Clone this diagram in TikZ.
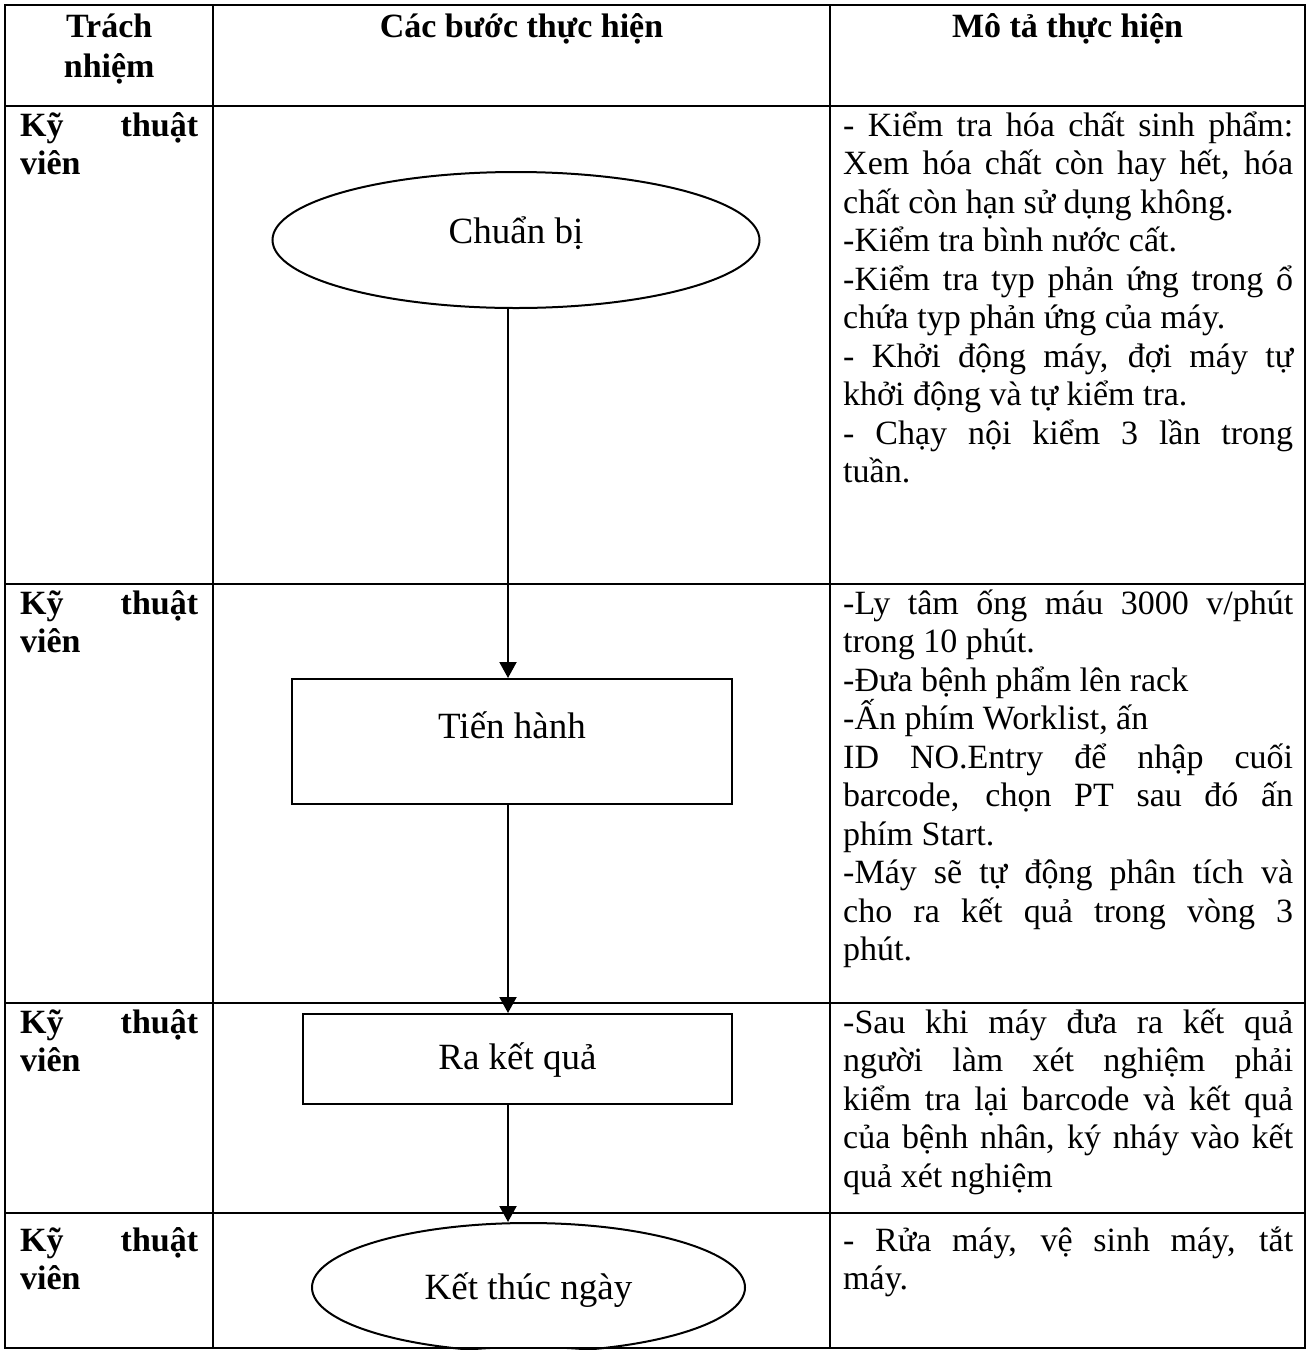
\documentclass[tikz,border=0pt]{standalone}
\usepackage{fontspec}
\setmainfont{Liberation Serif}
\usetikzlibrary{shapes.geometric,arrows.meta}
\newdimen\cw
\newcommand\jline[1]{\hbox to \cw{#1}}
\newcommand\pline[1]{\hbox{#1}}
\newcommand\centline[1]{\hbox to \cw{\hss #1\hss}}
\newcommand\cellbox[3][38.5pt]{\cw=#2\relax\vtop{\baselineskip=#1\lineskiplimit=-50pt\lineskip=0pt #3}}
\tikzset{
  tbl/.style={line width=2.5pt},
  celltext/.style={anchor=base west, inner sep=0pt, font=\fontsize{34}{38.5}\selectfont},
  boldcell/.style={celltext, font=\bfseries\fontsize{34}{38.5}\selectfont},
  hdr/.style={anchor=base, inner sep=0pt, font=\bfseries\fontsize{34}{38.5}\selectfont},
  flowtxt/.style={font=\fontsize{37}{42}\selectfont, inner sep=0pt},
  term/.style={ellipse, draw, line width=2pt, inner sep=0pt},
  proc/.style={rectangle, draw, line width=2pt, inner sep=0pt},
  arr/.style={line width=2pt, -{Triangle[width=17pt,length=16pt]}},
}
\begin{document}
\begin{tikzpicture}[x=1pt,y=-1pt]
\useasboundingbox (0,0) rectangle (1315,1350);
% table grid
\draw[tbl] (5,5) rectangle (1305,1348);
\draw[tbl] (213,5) -- (213,1348);
\draw[tbl] (830,5) -- (830,1348);
\draw[tbl] (5,106) -- (1305,106);
\draw[tbl] (5,584) -- (1305,584);
\draw[tbl] (5,1003) -- (1305,1003);
\draw[tbl] (5,1213) -- (1305,1213);
% header
\node[boldcell] (h1) at (20,37) {\cellbox[40pt]{178pt}{\centline{Trách}\centline{nhiệm}}};
\node[hdr] (h2) at (521.5,37) {Các bước thực hiện};
\node[hdr] (h3) at (1067.5,37) {Mô tả thực hiện};
% column 1
\node[boldcell] (r1) at (20,136) {\cellbox{178pt}{\jline{Kỹ thuật}\pline{viên}}};
\node[boldcell] (r2) at (20,614) {\cellbox{178pt}{\jline{Kỹ thuật}\pline{viên}}};
\node[boldcell] (r3) at (20,1033) {\cellbox{178pt}{\jline{Kỹ thuật}\pline{viên}}};
\node[boldcell] (r4) at (20,1251) {\cellbox{178pt}{\jline{Kỹ thuật}\pline{viên}}};
% column 3
\node[celltext] (d1) at (843,136) {\cellbox{450pt}{%
\jline{- Kiểm tra hóa chất sinh phẩm:}%
\jline{Xem hóa chất còn hay hết, hóa}%
\pline{chất còn hạn sử dụng không.}%
\pline{-Kiểm tra bình nước cất.}%
\jline{-Kiểm tra typ phản ứng trong ổ}%
\pline{chứa typ phản ứng của máy.}%
\jline{- Khởi động máy, đợi máy tự}%
\pline{khởi động và tự kiểm tra.}%
\jline{- Chạy nội kiểm 3 lần trong}%
\pline{tuần.}}};
\node[celltext] (d2) at (843,614) {\cellbox{450pt}{%
\jline{-Ly tâm ống máu 3000 v/phút}%
\pline{trong 10 phút.}%
\pline{-Đưa bệnh phẩm lên rack}%
\pline{-Ấn phím Worklist, ấn}%
\jline{ID NO.Entry để nhập cuối}%
\jline{barcode, chọn PT sau đó ấn}%
\pline{phím Start.}%
\jline{-Máy sẽ tự động phân tích và}%
\jline{cho ra kết quả trong vòng 3}%
\pline{phút.}}};
\node[celltext] (d3) at (843,1033) {\cellbox{450pt}{%
\jline{-Sau khi máy đưa ra kết quả}%
\jline{người làm xét nghiệm phải}%
\jline{kiểm tra lại barcode và kết quả}%
\jline{của bệnh nhân, ký nháy vào kết}%
\pline{quả xét nghiệm}}};
\node[celltext] (d4) at (843,1251) {\cellbox{450pt}{%
\jline{- Rửa máy, vệ sinh máy, tắt}%
\pline{máy.}}};
% flowchart
\coordinate (ax) at (508,0);
\node[term, minimum width=487pt, minimum height=136pt,
  label={[flowtxt,anchor=base,yshift=7pt]center:Chuẩn bị}] (prep) at (516,240) {};
\node[proc, minimum width=440pt, minimum height=125pt,
  label={[flowtxt,anchor=base,yshift=16.5pt]center:Tiến hành}] (work) at (512,741.5) {};
\node[proc, minimum width=429pt, minimum height=90pt,
  label={[flowtxt,anchor=base,yshift=-1pt]center:Ra kết quả}] (res) at (517.5,1059) {};
\node[term, minimum width=433pt, minimum height=129pt,
  label={[flowtxt,anchor=base,yshift=-2.5pt]center:Kết thúc ngày}] (fin) at (528.5,1287.5) {};
\draw[arr] (prep.south -| ax) -- (work.north -| ax);
\draw[arr] (work.south -| ax) -- (res.north -| ax);
\draw[arr] (res.south -| ax) -- (fin.north -| ax);
\end{tikzpicture}
\end{document}
